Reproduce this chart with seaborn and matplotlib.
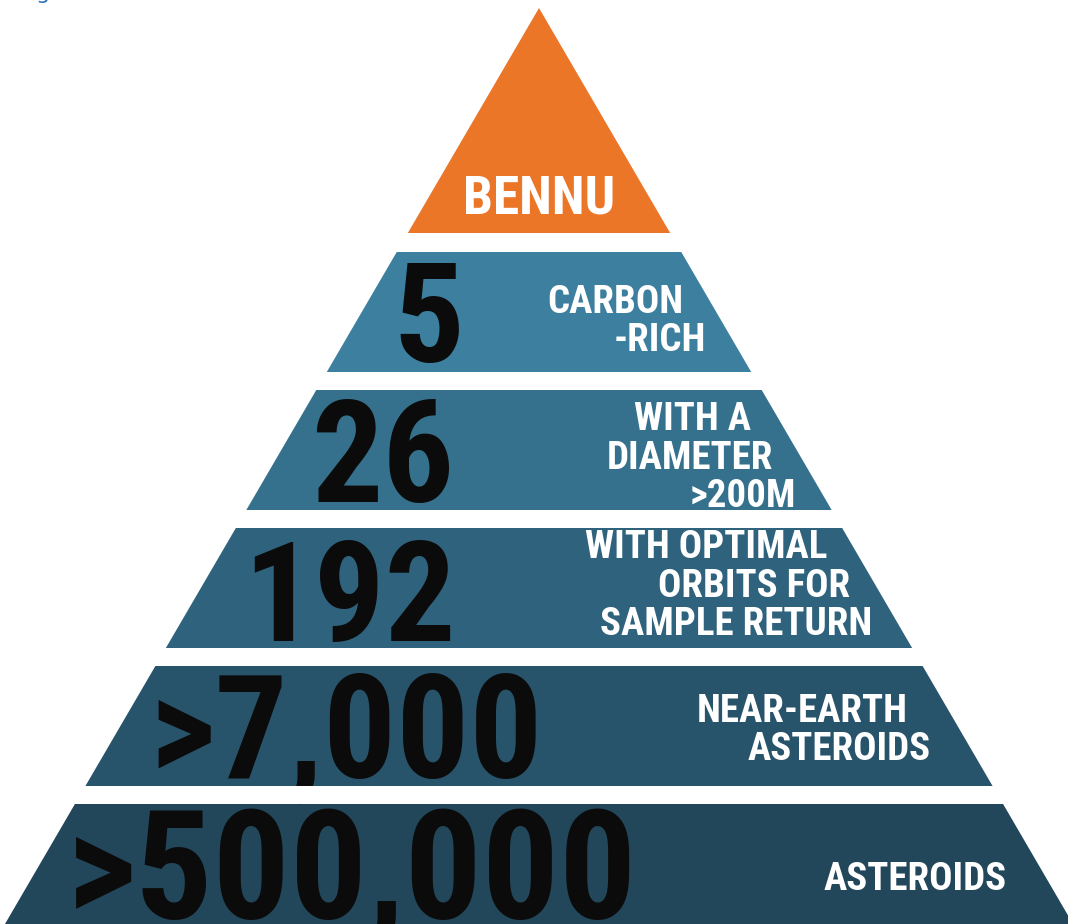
import seaborn as sns
import matplotlib.pyplot as plt

# pyramid content, top to bottom
top_label = "BENNU"
counts = ["5", "26", "192", ">7,000", ">500,000"]
descriptions = [
    ["CARBON", "-RICH"],
    ["WITH A", "DIAMETER", ">200M"],
    ["WITH OPTIMAL", "ORBITS FOR", "SAMPLE RETURN"],
    ["NEAR-EARTH", "ASTEROIDS"],
    ["ASTEROIDS"],
]

sns.set_theme(style="white")
tier_colors = sns.blend_palette(["#3C7F9E", "#22465A"], n_colors=len(counts))
apex_color = "#EC7627"

# layout in pixel-like units, y grows downward
W, H = 1068, 924
cx, apex_y, slope = 539, 8, 0.583
tip_bottom = 233
first_top, step, tier_h = 252, 138, 120
num_size = [101, 102, 101, 104, 110]
num_pad = [32, 30, 42, 29, 27]
num_dy = [0, 2, 3, 0, 1]
label_dy = [6, 5, -5, 1, 12]
label_pad = [25, 26, 24, 39, 38]
line_step = 38.5
label_size = 28
cond = ["Roboto Condensed", "Roboto", "DejaVu Sans"]
PT = 100 / 72  # px per point
CAP = 0.711    # cap height of the face, in em


def half(y):
    return slope * (y - apex_y)


fig = plt.figure(figsize=(W / 100, H / 100), dpi=100)
ax = fig.add_axes([0, 0, 1, 1])
ax.set_xlim(0, W)
ax.set_ylim(H, 0)
ax.axis("off")

# cut-off caption above the picture
ax.text(36, -1, "g", color="#2E75B6", fontsize=16, family="DejaVu Sans",
        va="baseline", clip_on=False)

# apex triangle
ax.fill([cx, cx - half(tip_bottom), cx + half(tip_bottom)],
        [apex_y, tip_bottom, tip_bottom], color=apex_color, lw=0)
ax.text(cx, 213, top_label, ha="center", va="baseline", color="white",
        fontsize=38.5, family=cond, weight="bold")

lab_cap = label_size * PT * CAP
for i, (count, lines) in enumerate(zip(counts, descriptions)):
    top = first_top + i * step
    bot = top + tier_h
    mid = (top + bot) / 2
    ax.fill([cx - half(top), cx + half(top), cx + half(bot), cx - half(bot)],
            [top, top, bot, bot], color=tier_colors[i], lw=0, zorder=1)

    cap = num_size[i] * PT * CAP
    ax.text(cx - half(mid) + num_pad[i], mid + num_dy[i] + cap / 2, count,
            ha="left", va="baseline", color="#0b0b0b", zorder=2,
            fontsize=num_size[i], family=cond, weight="bold")

    # white gap under the band hides comma tails of the big numbers
    if i < len(counts) - 1:
        ax.axhspan(bot, bot + step - tier_h, color="white", lw=0, zorder=2.5)

    n = len(lines)
    for k, line in enumerate(lines):
        yc = mid + label_dy[i] + (k - (n - 1) / 2) * line_step
        ax.text(cx + half(yc) - label_pad[i], yc + lab_cap / 2, line,
                ha="right", va="baseline", color="white", zorder=3,
                fontsize=label_size, family=cond, weight="bold")

fig.savefig("out.png", dpi=100)
